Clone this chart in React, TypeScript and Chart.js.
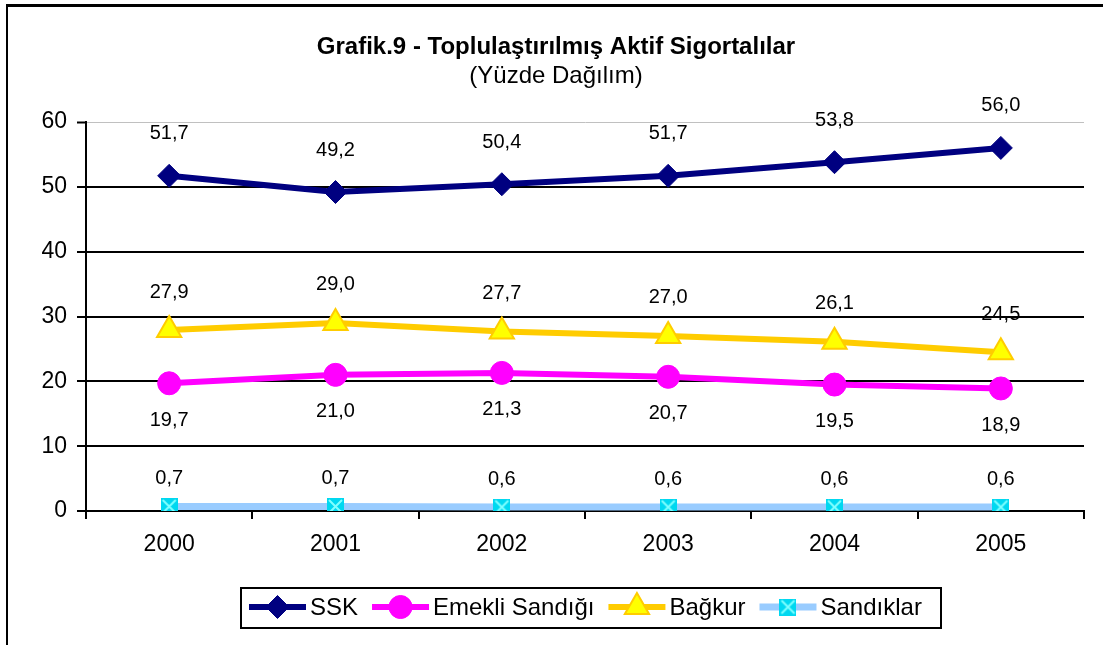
import React, { useEffect, useRef } from "react";
import { Chart, registerables } from "chart.js";

Chart.register(...registerables);

const years = ["2000", "2001", "2002", "2003", "2004", "2005"];
const ssk = [51.7, 49.2, 50.4, 51.7, 53.8, 56.0];
const emekli = [19.7, 21.0, 21.3, 20.7, 19.5, 18.9];
const bagkur = [27.9, 29.0, 27.7, 27.0, 26.1, 24.5];
const sandiklar = [0.7, 0.7, 0.6, 0.6, 0.6, 0.6];
const seriesNames = ["SSK", "Emekli Sandığı", "Bağkur", "Sandıklar"];
const yTicks = [0, 10, 20, 30, 40, 50, 60];
const titleText = "Grafik.9 - Toplulaştırılmış Aktif Sigortalılar";
const subtitleText = "(Yüzde Dağılım)";

const FONT = "'Liberation Sans', Arial, sans-serif";

function makeCrossSquare(): HTMLCanvasElement {
  const c = document.createElement("canvas");
  c.width = 17;
  c.height = 17;
  const g = c.getContext("2d")!;
  g.fillStyle = "#00D8F0";
  g.fillRect(0, 0, 17, 17);
  g.strokeStyle = "#80FFFF";
  g.lineWidth = 2;
  g.beginPath();
  g.moveTo(2, 2);
  g.lineTo(15, 15);
  g.moveTo(15, 2);
  g.lineTo(2, 15);
  g.stroke();
  return c;
}

function drawMarker(ctx: CanvasRenderingContext2D, kind: string, x: number, y: number, ds: any) {
  ctx.save();
  ctx.fillStyle = ds.pointBackgroundColor;
  ctx.strokeStyle = ds.pointBorderColor;
  ctx.lineWidth = ds.pointBorderWidth;
  const r = ds.pointRadius;
  ctx.beginPath();
  if (kind === "rectRot") {
    ctx.moveTo(x - r, y);
    ctx.lineTo(x, y - r);
    ctx.lineTo(x + r, y);
    ctx.lineTo(x, y + r);
    ctx.closePath();
    ctx.fill();
    ctx.stroke();
  } else if (kind === "circle") {
    ctx.arc(x, y, r, 0, Math.PI * 2);
    ctx.fill();
    ctx.stroke();
  } else if (kind === "triangle") {
    for (let i = 0; i < 3; i++) {
      const a = (i * 2 * Math.PI) / 3;
      const px = x + Math.sin(a) * r;
      const py = y - Math.cos(a) * r;
      if (i === 0) ctx.moveTo(px, py);
      else ctx.lineTo(px, py);
    }
    ctx.closePath();
    ctx.fill();
    ctx.stroke();
  } else if (ds.pointStyle instanceof HTMLCanvasElement) {
    const img = ds.pointStyle as HTMLCanvasElement;
    ctx.drawImage(img, x - img.width / 2, y - img.height / 2);
  }
  ctx.restore();
}

const labelOffsets = [-42, 37, -38, -28];

const decorPlugin = {
  id: "decor",
  beforeDraw(chart: any) {
    const ctx = chart.ctx as CanvasRenderingContext2D;
    ctx.save();
    ctx.fillStyle = "#ffffff";
    ctx.fillRect(0, 0, chart.width, chart.height);
    ctx.fillStyle = "#000000";
    ctx.fillRect(6, 4, chart.width - 6, 3);
    ctx.fillRect(6, 4, 2, chart.height - 4);
    ctx.textAlign = "center";
    ctx.textBaseline = "middle";
    ctx.font = `bold 24px ${FONT}`;
    ctx.fillText(titleText, 556, 47);
    ctx.font = `24px ${FONT}`;
    ctx.fillText(subtitleText, 556, 76);
    ctx.restore();
  },
  afterDatasetsDraw(chart: any) {
    const ctx = chart.ctx as CanvasRenderingContext2D;
    ctx.save();
    ctx.font = `20px ${FONT}`;
    ctx.fillStyle = "#000000";
    ctx.textAlign = "center";
    ctx.textBaseline = "middle";
    chart.data.datasets.forEach((ds: any, di: number) => {
      const meta = chart.getDatasetMeta(di);
      meta.data.forEach((pt: any, i: number) => {
        const v = ds.data[i] as number;
        ctx.fillText(v.toFixed(1).replace(".", ","), pt.x, pt.y + labelOffsets[di]);
      });
    });
    ctx.restore();
  },
  afterDraw(chart: any) {
    const ctx = chart.ctx as CanvasRenderingContext2D;
    ctx.save();
    ctx.strokeStyle = "#000000";
    ctx.lineWidth = 2;
    ctx.strokeRect(241, 588, 700, 40);
    ctx.font = `24px ${FONT}`;
    ctx.textBaseline = "middle";
    ctx.textAlign = "left";
    let x = 249;
    const y = 607;
    const kinds = ["rectRot", "circle", "triangle", "image"];
    chart.data.datasets.forEach((ds: any, di: number) => {
      ctx.strokeStyle = ds.borderColor;
      ctx.lineWidth = ds.borderWidth;
      ctx.beginPath();
      ctx.moveTo(x, y);
      ctx.lineTo(x + 57, y);
      ctx.stroke();
      drawMarker(ctx, kinds[di], x + 28.5, y, ds);
      ctx.fillStyle = "#000000";
      ctx.fillText(ds.label, x + 61, y + 1);
      x += 61 + ctx.measureText(ds.label).width + 14;
    });
    ctx.restore();
  },
};

export default function App() {
  const canvasRef = useRef<HTMLCanvasElement | null>(null);

  useEffect(() => {
    document.body.style.margin = "0";
    const canvas = canvasRef.current!;
    const cross = makeCrossSquare();
    const chart = new Chart(canvas, {
      type: "line",
      data: {
        labels: years,
        datasets: [
          {
            label: seriesNames[0],
            data: ssk,
            borderColor: "#000080",
            backgroundColor: "#000080",
            borderWidth: 6,
            pointStyle: "rectRot",
            pointRadius: 11.5,
            pointBackgroundColor: "#000080",
            pointBorderColor: "#000080",
            pointBorderWidth: 1,
            tension: 0,
          },
          {
            label: seriesNames[1],
            data: emekli,
            borderColor: "#FF00FF",
            backgroundColor: "#FF00FF",
            borderWidth: 6,
            pointStyle: "circle",
            pointRadius: 11.5,
            pointBackgroundColor: "#FF00FF",
            pointBorderColor: "#FF00FF",
            pointBorderWidth: 1,
            tension: 0,
          },
          {
            label: seriesNames[2],
            data: bagkur,
            borderColor: "#FFCC00",
            backgroundColor: "#FFFF00",
            borderWidth: 6,
            pointStyle: "triangle",
            pointRadius: 14,
            pointBackgroundColor: "#FFFF00",
            pointBorderColor: "#FFCC00",
            pointBorderWidth: 2,
            tension: 0,
          },
          {
            label: seriesNames[3],
            data: sandiklar,
            borderColor: "#99CCFF",
            backgroundColor: "#00D8F0",
            borderWidth: 7,
            pointStyle: cross as any,
            pointRadius: 8,
            pointBackgroundColor: "#00D8F0",
            pointBorderColor: "#00D8F0",
            pointBorderWidth: 0,
            tension: 0,
          },
        ],
      },
      options: {
        responsive: false,
        animation: false,
        devicePixelRatio: 1,
        layout: { padding: { top: 122, right: 19, left: 0, bottom: 0 } },
        plugins: {
          legend: { display: false },
          title: { display: false },
          tooltip: { enabled: false },
        },
        scales: {
          x: {
            type: "category",
            offset: true,
            afterFit: (s: any) => {
              s.height = 134;
            },
            border: { display: true, color: "#000000", width: 2 },
            grid: {
              display: true,
              drawOnChartArea: false,
              drawTicks: true,
              tickLength: 8,
              color: "#000000",
              lineWidth: 2,
              offset: true,
            },
            ticks: {
              color: "#000000",
              font: { family: FONT, size: 23 },
              padding: 12,
              maxRotation: 0,
            },
          },
          y: {
            min: 0,
            max: 60,
            afterFit: (s: any) => {
              s.width = 86;
            },
            afterBuildTicks: (s: any) => {
              s.ticks = yTicks.map((v) => ({ value: v }));
            },
            border: { display: true, color: "#000000", width: 2 },
            grid: {
              color: (c: any) => (c.tick && c.tick.value === 60 ? "#C0C0C0" : "#000000"),
              lineWidth: (c: any) => (c.tick && c.tick.value === 60 ? 1 : 2),
              tickColor: "#000000",
              tickWidth: 2,
              tickLength: 9,
            },
            ticks: {
              color: "#000000",
              font: { family: FONT, size: 23 },
              padding: 10,
              stepSize: 10,
            },
          },
        },
      },
      plugins: [decorPlugin],
    });
    return () => chart.destroy();
  }, []);

  return (
    <canvas
      ref={canvasRef}
      width={1103}
      height={645}
      style={{ display: "block", width: "1103px", height: "645px" }}
    />
  );
}
